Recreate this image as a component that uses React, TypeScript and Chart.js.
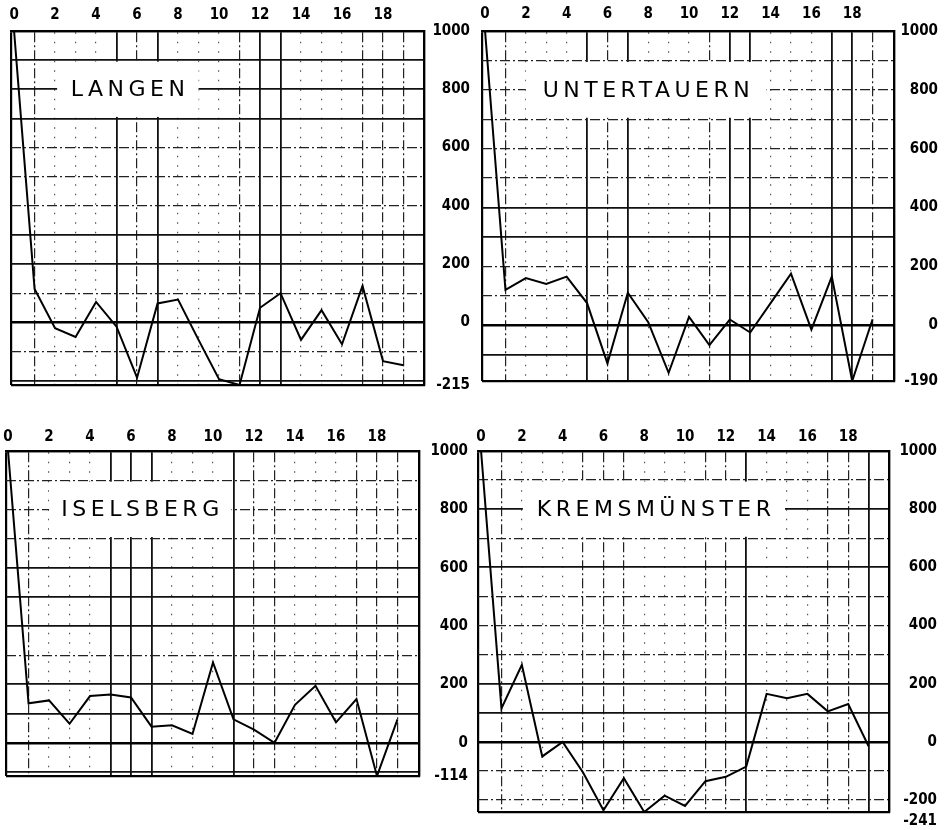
import React, { useEffect, useRef } from 'react';
import { Chart, registerables } from 'chart.js';

Chart.register(...registerables);

// ---------- data ----------
const X_VALUES = [0, 1, 2, 3, 4, 5, 6, 7, 8, 9, 10, 11, 12, 13, 14, 15, 16, 17, 18, 19];
const X_TICK_LABELS = [0, 2, 4, 6, 8, 10, 12, 14, 16, 18];
const Y_GRID_VALUES = [1000, 900, 800, 700, 600, 500, 400, 300, 200, 100, 0, -100, -200];
const Y_TICK_LABELS = [1000, 800, 600, 400, 200, 0];

const LANGEN = [1000, 115, -20, -50, 70, -15, -190, 65, 78, -60, -195, -215, 50, 100, -60, 42, -75, 125, -133, -147];
const UNTERTAUERN = [1000, 120, 160, 140, 165, 75, -130, 110, 10, -162, 28, -68, 19, -25, 75, 175, -15, 165, -190, 20];
const ISELSBERG = [1000, 135, 145, 65, 160, 165, 155, 55, 60, 30, 275, 80, 45, 0, 130, 195, 70, 150, -114, 80];
const KREMSMUENSTER = [1000, 115, 265, -50, 0, -105, -235, -125, -241, -185, -220, -135, -120, -85, 165, 150, 165, 105, 130, -15];

const LANGEN_MIN = -215;
const UNTERTAUERN_MIN = -190;
const ISELSBERG_MIN = -114;
const KREMSMUENSTER_MIN = -241;

// ---------- styling / layout ----------
const DOTTED_X = [2, 3, 4, 8, 9, 10, 14, 15, 16];
const TICK_FONT = { family: '"DejaVu Sans Condensed", "DejaVu Sans", sans-serif', size: 15, weight: 'bold' as const };

type PanelCfg = {
  title: string;
  data: number[];
  min: number;
  extraLabels: number[];
  canvas: { left: number; top: number; w: number; h: number };
  plot: { left: number; top: number; right: number; bottom: number };
  xmin: number;
  xmax: number;
  xPad: number;
  box: [number, number];
  solidX: number[];
  solidY: number[];
};

const PANELS: PanelCfg[] = [
  {
    title: 'LANGEN', data: LANGEN, min: LANGEN_MIN, extraLabels: [LANGEN_MIN],
    canvas: { left: 0, top: 0, w: 470, h: 400 },
    plot: { left: 11, top: 31, right: 424, bottom: 388 },
    xmin: -0.15, xmax: 20, xPad: 7, box: [2.1, 9.0],
    solidX: [5, 7, 12, 13], solidY: [900, 800, 700, 300, 200, -200],
  },
  {
    title: 'UNTERTAUERN', data: UNTERTAUERN, min: UNTERTAUERN_MIN, extraLabels: [UNTERTAUERN_MIN],
    canvas: { left: 470, top: 0, w: 468, h: 400 },
    plot: { left: 12, top: 31, right: 424, bottom: 381 },
    xmin: -0.15, xmax: 20.05, xPad: 8, box: [2.0, 13.8],
    solidX: [5, 7, 12, 13, 17, 18], solidY: [400, 300, -100],
  },
  {
    title: 'ISELSBERG', data: ISELSBERG, min: ISELSBERG_MIN, extraLabels: [ISELSBERG_MIN],
    canvas: { left: 0, top: 415, w: 468, h: 415 },
    plot: { left: 6, top: 36, right: 419, bottom: 361 },
    xmin: -0.1, xmax: 20.05, xPad: 5, box: [2.0, 10.9],
    solidX: [5, 6, 7, 11], solidY: [600, 500, 400, 200, 100, -100],
  },
  {
    title: 'KREMSMÜNSTER', data: KREMSMUENSTER, min: KREMSMUENSTER_MIN, extraLabels: [-200, KREMSMUENSTER_MIN],
    canvas: { left: 470, top: 415, w: 467, h: 415 },
    plot: { left: 8, top: 36, right: 419, bottom: 397 },
    xmin: -0.15, xmax: 20, xPad: 5, box: [2.05, 14.9],
    solidX: [13, 19], solidY: [800, 600, 200, 100],
  },
];

const STYLES: Record<string, { w: number; dash: number[]; color: string }> = {
  none: { w: 0, dash: [], color: 'rgba(0,0,0,0)' },
  frame: { w: 2.2, dash: [], color: '#000' },
  thick: { w: 2.4, dash: [], color: '#000' },
  solid: { w: 1.8, dash: [], color: '#111' },
  dashdot: { w: 1.2, dash: [10, 3, 2, 3], color: '#222' },
  dotted: { w: 1.2, dash: [1.5, 8], color: '#555' },
};

const titlePlugin = {
  id: 'panelTitle',
  beforeDatasetsDraw(chart: any, _args: any, opts: any) {
    const { ctx, scales } = chart;
    const x = scales.x;
    const y = scales.y;
    const x0 = x.getPixelForValue(opts.from);
    const x1 = x.getPixelForValue(opts.to);
    const yTop = y.getPixelForValue(900);
    const yBot = y.getPixelForValue(700);
    ctx.save();
    ctx.fillStyle = '#fff';
    ctx.fillRect(x0, yTop + 1.5, x1 - x0, yBot - yTop - 3);
    ctx.font = '22px "DejaVu Sans", sans-serif';
    (ctx as any).letterSpacing = '4.5px';
    ctx.fillStyle = '#000';
    ctx.textBaseline = 'middle';
    ctx.textAlign = 'left';
    const w = ctx.measureText(opts.text).width - 4.5;
    const cx = (x0 + x1) / 2;
    ctx.fillText(opts.text, cx - w / 2, y.getPixelForValue(800) + 1);
    ctx.restore();
  },
};

function Panel({ cfg }: { cfg: PanelCfg }) {
  const ref = useRef<HTMLCanvasElement>(null);
  useEffect(() => {
    const { canvas, plot } = cfg;
    const xKind = (v: number | undefined) => {
      if (v === undefined) return 'none';
      if (v <= cfg.xmin + 1e-6 || v >= cfg.xmax - 1e-6) return 'frame';
      if (v === 0) return 'none';
      if (cfg.solidX.includes(v)) return 'solid';
      if (DOTTED_X.includes(v)) return 'dotted';
      return 'dashdot';
    };
    const yKind = (v: number | undefined) => {
      if (v === undefined) return 'none';
      if (v === 1000 || v === cfg.min) return 'frame';
      if (v === 0) return 'thick';
      if (cfg.solidY.includes(v)) return 'solid';
      return 'dashdot';
    };
    const labeledY = [...Y_TICK_LABELS, ...cfg.extraLabels];

    const chart = new Chart(ref.current!, {
      type: 'line',
      data: {
        datasets: [
          {
            data: X_VALUES.map((xv, i) => ({ x: xv, y: cfg.data[i] })),
            borderColor: '#000',
            borderWidth: 2,
            pointRadius: 0,
            tension: 0,
            fill: false,
          },
        ],
      },
      plugins: [titlePlugin],
      options: {
        animation: false,
        responsive: false,
        events: [],
        layout: {
          padding: { left: plot.left, top: 0, right: 0, bottom: canvas.h - plot.bottom },
        },
        plugins: {
          legend: { display: false },
          tooltip: { enabled: false },
          panelTitle: { text: cfg.title, from: cfg.box[0], to: cfg.box[1] },
        } as any,
        scales: {
          x: {
            type: 'linear',
            position: 'top',
            min: cfg.xmin,
            max: cfg.xmax,
            afterBuildTicks: (s: any) => {
              s.ticks = [cfg.xmin, ...X_VALUES, cfg.xmax].map((v) => ({ value: v }));
            },
            afterFit: (s: any) => {
              s.height = plot.top;
            },
            ticks: {
              autoSkip: false,
              maxRotation: 0,
              padding: cfg.xPad,
              color: '#000',
              font: TICK_FONT,
              callback: (v: any) => (X_TICK_LABELS.includes(v) ? String(v) : ''),
            },
            grid: {
              drawTicks: false,
              color: (c: any) => STYLES[xKind(c.tick?.value)].color,
              lineWidth: (c: any) => STYLES[xKind(c.tick?.value)].w,
            },
            border: {
              display: true,
              width: 2.2,
              color: '#000',
              dash: (c: any) => (c.tick ? STYLES[xKind(c.tick.value)].dash : []),
            },
          },
          y: {
            type: 'linear',
            position: 'right',
            min: cfg.min,
            max: 1000,
            afterBuildTicks: (s: any) => {
              const vals = Y_GRID_VALUES.filter((v) => v > cfg.min);
              s.ticks = [...vals, cfg.min].map((v) => ({ value: v }));
            },
            afterFit: (s: any) => {
              s.width = canvas.w - plot.right;
            },
            ticks: {
              autoSkip: false,
              padding: 6,
              crossAlign: 'far',
              color: '#000',
              font: TICK_FONT,
              callback: (v: any) => {
                if (!labeledY.includes(v)) return '';
                if (v === cfg.min && cfg.extraLabels.length > 1) return ['', String(v)];
                return String(v);
              },
            },
            grid: {
              drawTicks: false,
              color: (c: any) => STYLES[yKind(c.tick?.value)].color,
              lineWidth: (c: any) => STYLES[yKind(c.tick?.value)].w,
            },
            border: {
              display: true,
              width: 2.2,
              color: '#000',
              dash: (c: any) => (c.tick ? STYLES[yKind(c.tick.value)].dash : []),
            },
          },
        },
      } as any,
    });
    return () => chart.destroy();
  }, [cfg]);

  return (
    <canvas
      ref={ref}
      width={cfg.canvas.w}
      height={cfg.canvas.h}
      style={{
        position: 'absolute',
        left: cfg.canvas.left,
        top: cfg.canvas.top,
        width: cfg.canvas.w,
        height: cfg.canvas.h,
      }}
    />
  );
}

export default function App() {
  return (
    <div style={{ position: 'absolute', left: 0, top: 0, width: 947, height: 830, background: '#fff' }}>
      {PANELS.map((p) => (
        <Panel key={p.title} cfg={p} />
      ))}
    </div>
  );
}
